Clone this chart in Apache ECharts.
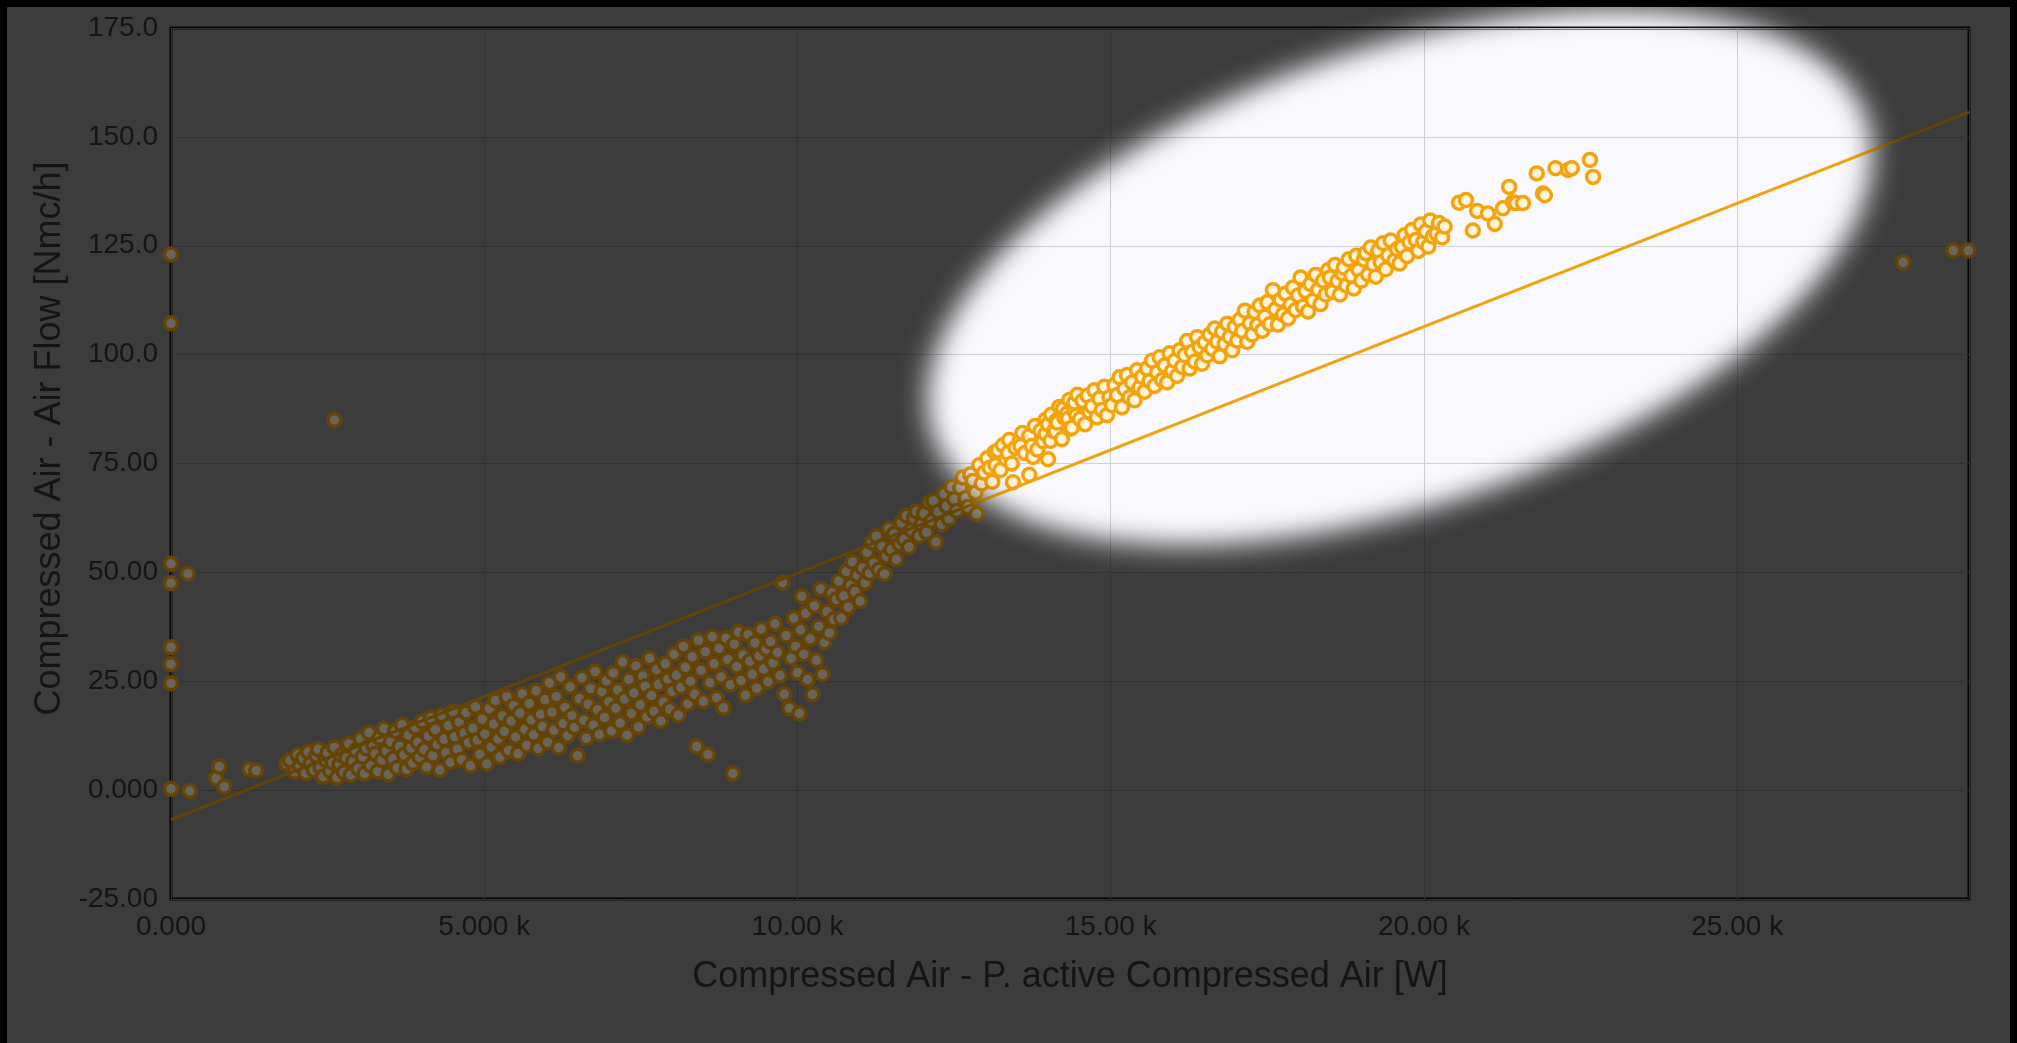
<!DOCTYPE html>
<html>
<head>
<meta charset="utf-8">
<script src="https://cdn.jsdelivr.net/npm/echarts@6/dist/echarts.min.js"></script>
<style>
  html, body { margin: 0; padding: 0; background: #000; overflow: hidden; }
  #chart { position: absolute; left: 7px; top: 7px; width: 2003px; height: 1036px; }
</style>
</head>
<body>
<div id="chart"></div>
<script>
// ---- tick labels ----
const xTickValues = [0, 5000, 10000, 15000, 20000, 25000];
const xTickLabels = ['0.000', '5.000 k', '10.00 k', '15.00 k', '20.00 k', '25.00 k'];
const yTickValues = [-25, 0, 25, 50, 75, 100, 125, 150, 175];
const yTickLabels = ['-25.00', '0.000', '25.00', '50.00', '75.00', '100.0', '125.0', '150.0', '175.0'];

const xAxisName = 'Compressed Air - P. active Compressed Air [W]';
const yAxisName = 'Compressed Air - Air Flow [Nmc/h]';

// ---- regression line (W, Nmc/h) ----
const trendX = [0, 28700];
const trendY = [-6.8, 155.7];

// ---- scatter points [W, Nmc/h] ----
const idleAndOutlierPoints = [
  [0,123.0],[0,107.2],[0,52.0],[0,47.5],[0,32.8],[0,28.9],[0,24.5],[0,0.3],[270,49.7],[300,-0.2],
  [2610,85.0],[27650,121.2],[28450,123.9],[28690,123.9],
  [720,2.7],[770,5.4],[850,0.8],[1250,4.8],[1360,4.5],[1840,6.1]
];

const lowLoadPoints = [
  [1900,6.8],[1980,4.2],[2020,8.1],[2060,5.5],[2110,7.3],[2150,3.9],[2190,8.8],[2230,6.1],[2280,4.6],[2320,7.9],[2350,9.4],[2390,5.2],[2430,3.1],[2460,7.0],[2500,8.6],[2540,4.4],[2580,6.3],[2610,9.8],[2650,2.9],[2690,5.9],[2720,8.0],[2760,4.1],[2800,7.4],[2840,10.6],[2870,3.5],[2910,6.6],[2950,9.1],[2990,5.0],
  [3030,11.8],[3060,7.7],[3090,3.8],[3120,9.6],[3160,13.2],[3190,5.6],[3230,10.4],[3260,8.3],[3300,4.3],[3330,12.0],[3370,6.9],[3400,14.1],[3440,9.0],[3470,3.6],[3510,11.1],[3540,7.2],[3580,13.6],[3610,5.1],[3650,10.0],[3690,15.0],[3720,8.1],[3760,4.8],[3790,12.6],[3830,9.7],[3860,6.2],[3900,14.4],[3940,11.0],[3970,7.5],
  [4010,15.8],[4040,9.3],[4080,5.3],[4110,12.4],[4150,16.6],[4180,7.9],[4220,13.9],[4250,10.5],[4290,4.6],[4320,17.2],[4360,11.7],[4390,8.6],[4430,14.8],[4460,6.4],[4500,18.0],[4530,12.3],[4570,9.4],[4600,15.6],[4640,7.0],[4680,13.1],[4710,17.8],[4750,10.9],[4780,5.6],[4820,14.2],[4860,19.1],[4890,11.5],[4930,8.2],[4970,16.3],
  [5010,12.9],[5040,6.0],[5080,18.7],[5110,9.9],[5150,15.2],[5180,20.6],[5220,11.8],[5250,7.6],[5290,17.0],[5320,13.5],[5360,21.4],[5390,9.1],[5430,15.9],[5470,19.4],[5500,12.2],[5540,8.4],[5570,17.7],[5610,22.1],[5650,14.0],[5680,10.3],[5720,19.9],[5750,16.1],[5790,12.7],[5830,22.8],[5860,9.6],[5900,17.4],[5930,14.6],[5970,20.8],
  [6010,11.0],[6040,24.6],[6080,17.9],[6110,13.8],[6150,21.5],[6190,9.8],[6220,26.0],[6260,15.3],[6290,19.0],[6330,12.5],[6370,23.7],[6400,17.1],[6440,14.4],[6490,7.9],[6520,21.0],[6560,25.8],[6590,16.0],[6630,11.9],[6660,19.7],[6700,23.3],[6740,14.9],[6770,27.2],[6810,18.4],[6840,12.8],[6880,22.6],[6920,16.7],[6950,25.1],[6990,20.3],
  [7030,13.6],[7060,26.9],[7100,18.8],[7130,23.0],[7170,15.4],[7210,29.4],[7240,20.9],[7280,12.6],[7310,25.4],[7350,17.6],[7390,22.3],[7420,28.5],[7460,14.5],[7490,19.6],[7530,26.2],[7570,23.8],[7600,16.8],[7640,30.3],[7670,21.7],[7710,18.1],[7750,27.7],[7780,24.3],[7820,15.9],[7860,20.2],[7890,29.0],[7930,25.5],[7960,18.6],[8000,22.7],
  [8030,31.2],[8070,26.4],[8100,17.2],[8140,23.6],[8180,33.0],[8210,28.2],[8250,19.8],[8290,25.0],[8320,30.6],[8360,22.0],[8390,10.0],[8420,34.4],[8460,27.5],[8500,20.4],[8530,31.8],[8570,8.2],[8600,24.7],[8640,35.2],[8670,29.0],[8710,21.2],[8750,32.6],[8780,26.0],[8820,18.9],[8860,34.9],[8890,30.0],[8930,24.2],[8970,3.8],[8990,33.5],
  [9030,28.4],[9060,36.3],[9100,25.2],[9130,31.0],[9170,21.8],[9210,35.7],[9240,29.6],[9280,26.6],[9320,33.8],[9350,23.4],[9390,30.8],[9420,37.0],[9460,27.8],[9500,32.4],[9530,24.9],[9570,34.1],[9610,29.2],[9640,38.2],[9680,31.6],[9720,26.3],[9760,47.7],[9790,22.0],[9820,35.5],[9870,18.8],[9900,30.3],[9940,39.5],[9970,33.0],[10000,27.0]
];

const transitionPoints = [
  [10030,17.6],[10050,36.8],[10070,44.5],[10100,31.2],[10130,40.6],[10160,25.4],[10200,34.7],[10240,22.0],[10270,42.3],[10300,29.8],[10340,37.6],[10370,46.2],[10400,26.6],[10430,33.9],[10470,41.0],[10510,36.1],[10550,45.3],[10580,39.2],[10620,43.8],[10660,48.0],[10700,39.5],[10740,44.6],[10780,50.2],[10810,42.0],[10850,47.1],[10880,52.4],[10920,45.6],[10960,49.3],
  [11000,43.4],[11040,51.0],[11080,47.6],[11110,54.6],[11150,49.8],[11190,56.9],[11220,52.1],[11260,58.3],[11300,50.6],[11350,56.0],[11390,49.6],[11420,53.7],[11460,60.0],[11500,55.2],[11540,58.8],[11580,53.0],[11630,56.5],[11660,61.4],[11700,57.6],[11740,63.0],[11780,55.8],[11820,59.7],[11860,62.4],[11900,64.0],[11940,58.3],[11980,61.0],
  [12020,63.5],[12060,59.2],[12100,66.0],[12140,61.8],[12170,66.4],[12210,57.0],[12250,63.9],[12300,61.0],[12340,68.0],[12380,65.2],[12420,62.3],[12460,69.6],[12500,66.8],[12540,64.1],[12600,69.4],[12640,71.8],[12680,67.0],[12720,65.0],[12760,72.5],[12800,71.0],[12840,68.3],[12860,63.4],[12900,74.6],[12940,70.4],[12980,72.9]
];

const highLoadPoints = [
  [13030,76.2],[13070,74.0],[13110,70.8],[13150,77.6],[13160,74.6],[13200,78.0],[13240,73.5],[13280,79.2],[13330,76.0],[13360,77.4],[13380,80.4],[13420,75.0],[13440,70.7],[13480,78.6],[13550,80.2],[13560,79.0],[13590,82.0],[13630,77.4],[13700,72.4],[13700,81.3],[13740,79.0],[13760,76.5],[13790,83.6],[13830,78.2],[13880,82.5],[13920,80.1],[13960,85.0],[13960,81.8],[14000,76.0],[14000,84.0],
  [14040,80.2],[14050,86.2],[14090,82.4],[14120,82.3],[14130,84.8],[14150,84.4],[14180,88.0],[14220,80.6],[14240,87.6],[14260,85.5],[14300,86.4],[14320,85.3],[14340,89.6],[14350,83.0],[14380,83.2],[14420,87.1],[14420,89.0],[14450,86.0],[14470,90.8],
  [14510,85.2],[14550,89.4],[14590,84.0],[14630,90.6],[14660,86.9],[14700,88.1],[14740,91.8],[14780,85.6],[14820,89.9],[14860,87.3],[14900,92.6],[14940,86.1],[14980,90.2],
  [15020,88.4],[15060,93.0],[15100,90.7],[15140,94.8],[15180,87.9],[15220,92.1],[15260,95.3],[15300,90.2],[15340,93.6],[15380,89.5],[15420,96.4],[15460,92.4],[15500,94.9],
  [15540,91.5],[15580,96.8],[15620,93.9],[15660,98.6],[15700,92.8],[15740,95.9],[15780,99.4],[15820,94.2],[15860,97.5],[15900,93.6],[15940,100.3],[15980,96.2],
  [16020,98.6],[16060,95.1],[16100,101.0],[16140,97.2],[16180,99.9],[16220,103.1],[16260,96.8],[16300,100.6],[16340,98.4],[16380,104.0],[16420,101.7],[16460,97.9],[16500,102.8],
  [16540,99.8],[16580,104.6],[16620,101.3],[16660,106.0],[16700,103.0],[16740,99.6],[16780,105.2],[16820,102.4],[16860,107.1],[16900,104.1],[16940,101.0],[16980,106.3],
  [17020,103.2],[17060,108.0],[17100,105.4],[17140,110.1],[17180,102.9],[17220,107.2],[17260,104.6],[17300,109.8],[17340,106.8],[17380,111.3],[17420,105.5],[17460,108.7],[17500,112.0],
  [17540,107.0],[17590,114.8],[17630,110.4],[17670,106.9],[17710,112.6],[17750,109.2],[17790,114.0],[17830,108.3],[17870,111.5],[17910,115.4],[17950,110.2],[17990,113.6],
  [18030,117.7],[18070,111.0],[18110,114.6],[18150,109.9],[18190,116.2],[18230,112.4],[18270,118.3],[18310,114.9],[18350,111.6],[18390,117.0],[18430,113.8],[18470,119.4],[18500,117.7],
  [18540,114.4],[18580,120.6],[18620,116.9],[18660,113.8],[18700,118.6],[18720,120.0],[18760,115.9],[18800,121.9],[18840,118.1],[18880,115.2],[18920,122.7],[18960,119.4],[19000,117.0],
  [19040,121.8],[19070,123.3],[19110,118.4],[19150,124.6],[19190,120.7],[19230,117.9],[19270,123.9],[19310,121.2],[19350,125.6],[19390,119.6],[19430,122.8],[19470,126.2],[19530,121.6],
  [19570,124.2],[19610,120.9],[19650,124.7],[19690,127.4],[19730,122.6],[19770,125.8],[19810,128.6],[19870,126.3],[19910,123.8],[19950,129.9],[19990,125.9],[20030,128.3],[20070,124.8],[20100,130.8],[20140,127.1],[20200,127.8],[20240,130.2],[20290,126.9],[20330,129.4],
  [20560,134.9],[20670,135.5],[20780,128.5],[20850,133.0],[21020,132.4],[21130,130.0],[21260,133.6],[21360,138.5],[21420,135.0],[21470,134.8],[21580,134.8],[21800,141.6],[21900,137.0],[21930,136.6],[22100,142.8],[22300,142.4],[22360,142.8],[22650,144.7],[22700,140.8]
];

const allPoints = idleAndOutlierPoints.concat(lowLoadPoints, transitionPoints, highLoadPoints);

// ---- layout / style ----
const W = 2003, H = 1036;
const labelColor = '#555555';
const pointColor = '#f3a30c';

function makeShade(alpha) {
  const c = document.createElement('canvas');
  c.width = W; c.height = H;
  const ctx = c.getContext('2d');
  ctx.fillStyle = 'rgba(0,0,0,' + alpha + ')';
  ctx.fillRect(0, 0, W, H);
  ctx.globalCompositeOperation = 'destination-out';
  ctx.filter = 'blur(14px)';
  ctx.beginPath();
  ctx.ellipse(1393, 270, 496, 232, -0.326, 0, Math.PI * 2);
  ctx.fillStyle = '#000';
  ctx.fill();
  return c;
}

function fmt(values, labels) {
  return function (v) {
    for (let i = 0; i < values.length; i++) {
      if (Math.abs(values[i] - v) < 1e-6) return labels[i];
    }
    return '';
  };
}

const chart = echarts.init(document.getElementById('chart'), null, { renderer: 'canvas' });
chart.setOption({
  animation: false,
  backgroundColor: '#f9f8fd',
  grid: {
    left: 164, top: 21, right: 41, bottom: 144,
    show: true, borderColor: '#141414', borderWidth: 3, backgroundColor: 'transparent'
  },
  xAxis: {
    type: 'value', min: 0, max: 28700, interval: 5000,
    name: xAxisName, nameLocation: 'middle', nameGap: 60,
    nameTextStyle: { fontFamily: 'Liberation Sans', fontSize: 36, color: labelColor },
    axisLine: { show: false }, axisTick: { show: false },
    axisLabel: { formatter: fmt(xTickValues, xTickLabels), margin: 14, fontFamily: 'Liberation Sans', fontSize: 28, color: labelColor },
    splitLine: { show: true, lineStyle: { color: '#cfcfd8', width: 1 } }
  },
  yAxis: {
    type: 'value', min: -25, max: 175, interval: 25,
    name: yAxisName, nameLocation: 'middle', nameGap: 101,
    nameTextStyle: { fontFamily: 'Liberation Sans', fontSize: 36, color: labelColor, padding: [0, 0, 0, 50] },
    axisLine: { show: false }, axisTick: { show: false },
    axisLabel: { formatter: fmt(yTickValues, yTickLabels), margin: 13, fontFamily: 'Liberation Sans', fontSize: 28, color: labelColor },
    splitLine: { show: true, lineStyle: { color: '#cfcfd8', width: 1 } }
  },
  graphic: {
    elements: [
      { type: 'image', id: 'shadeLow', silent: true, z: 1, x: 0, y: 0,
        style: { image: makeShade(0.42), x: 0, y: 0, width: W, height: H } },
      { type: 'image', id: 'shadeHigh', silent: true, z: 50, x: 0, y: 0,
        style: { image: makeShade(0.585), x: 0, y: 0, width: W, height: H } }
    ]
  },
  series: [
    {
      type: 'scatter', z: 2,
      symbol: 'circle', symbolSize: 13,
      itemStyle: { color: '#fff3da', borderColor: pointColor, borderWidth: 3.5, opacity: 1 },
      data: allPoints
    },
    {
      type: 'line', z: 3, symbol: 'none', silent: true,
      lineStyle: { color: '#eea412', width: 3 },
      data: trendX.map((x, i) => [x, trendY[i]])
    }
  ]
});
</script>
</body>
</html>
